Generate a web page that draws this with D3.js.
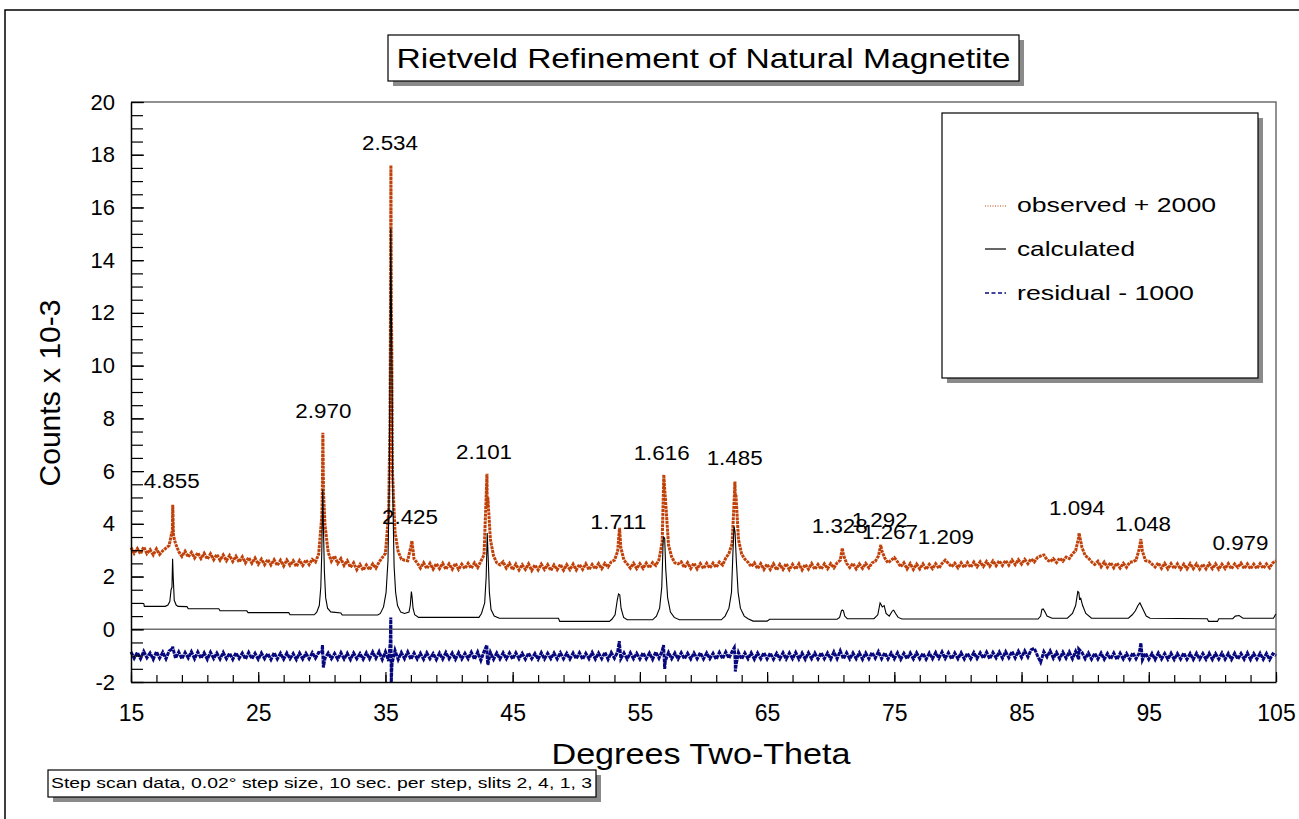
<!DOCTYPE html>
<html><head><meta charset="utf-8">
<script src="https://cdn.jsdelivr.net/npm/d3@7"></script>
<style>
body{margin:0;background:#fff}
svg{display:block}
text{font-family:"Liberation Sans",Arial,Helvetica,sans-serif;fill:#000}
</style>
</head><body>
<svg id="chart" width="1299" height="819"></svg>
<script>
// ---------- data ----------
const gridStart = 15, gridStep = 0.25;   // step of the digitised grid (degrees 2-theta)

// observed + 2000 (counts x 10^-3), read on a 0.25 deg grid, 15..105
const observedGrid = [
3.10,2.88,3.06,2.86,3.12,2.87,3.02,2.82,3.05,2.84,2.98,3.08,3.18,3.62,3.25,2.95,2.76,2.96,2.74,2.92,
2.70,2.90,2.68,2.88,2.66,2.86,2.64,2.84,2.62,2.82,2.60,2.80,2.57,2.77,2.55,2.75,2.52,2.72,2.50,2.70,
2.47,2.66,2.45,2.65,2.44,2.64,2.42,2.62,2.40,2.63,2.43,2.60,2.38,2.61,2.42,2.63,2.45,2.65,2.55,2.85,
4.30,3.95,2.92,2.58,2.78,2.50,2.68,2.42,2.60,2.35,2.52,2.26,2.46,2.24,2.44,2.26,2.48,2.32,2.55,2.72,
2.88,4.40,10.5,3.70,2.95,2.66,2.62,2.60,3.15,2.66,2.52,2.32,2.52,2.30,2.50,2.28,2.49,2.30,2.50,2.27,
2.48,2.28,2.50,2.27,2.47,2.30,2.50,2.31,2.52,2.34,2.58,2.82,4.60,3.40,2.78,2.52,2.44,2.56,2.32,2.50,
2.26,2.47,2.25,2.45,2.27,2.48,2.23,2.44,2.25,2.47,2.27,2.45,2.23,2.44,2.26,2.46,2.24,2.45,2.26,2.47,
2.25,2.46,2.27,2.48,2.26,2.46,2.29,2.49,2.30,2.50,2.36,2.56,2.62,2.95,3.10,2.62,2.48,2.32,2.50,2.30,
2.49,2.31,2.51,2.33,2.53,2.42,2.64,3.30,5.00,3.20,2.74,2.52,2.48,2.56,2.34,2.53,2.31,2.51,2.29,2.49,
2.30,2.50,2.32,2.51,2.35,2.55,2.44,2.70,2.88,3.25,5.00,3.40,2.85,2.66,2.54,2.38,2.52,2.30,2.49,2.27,
2.47,2.27,2.48,2.25,2.46,2.27,2.49,2.26,2.46,2.28,2.48,2.25,2.46,2.28,2.49,2.27,2.46,2.28,2.48,2.30,
2.49,2.33,2.52,2.62,2.82,2.50,2.34,2.50,2.29,2.48,2.31,2.50,2.33,2.52,2.58,2.78,3.00,2.70,2.52,2.62,
2.72,2.56,2.37,2.52,2.29,2.49,2.27,2.47,2.29,2.48,2.27,2.46,2.30,2.49,2.31,2.50,2.62,2.50,2.37,2.51,
2.33,2.52,2.34,2.53,2.35,2.55,2.37,2.56,2.38,2.57,2.39,2.59,2.41,2.60,2.42,2.61,2.43,2.63,2.45,2.64,
2.47,2.65,2.49,2.67,2.55,2.72,2.78,2.82,2.64,2.56,2.68,2.53,2.70,2.58,2.74,2.68,2.86,2.98,3.50,3.10,
2.80,2.70,2.56,2.46,2.58,2.37,2.55,2.35,2.53,2.33,2.51,2.32,2.50,2.35,2.54,2.56,2.62,3.05,2.95,2.60,
2.58,2.47,2.36,2.52,2.31,2.50,2.29,2.49,2.30,2.48,2.28,2.47,2.29,2.49,2.30,2.48,2.28,2.47,2.29,2.49,
2.30,2.48,2.28,2.47,2.30,2.49,2.29,2.48,2.35,2.51,2.30,2.48,2.29,2.47,2.30,2.49,2.31,2.48,2.33,2.52,
2.60];

// extra observed points at the peak tips [2theta, value]
const observedPeaks = [
[18.22,3.70],[18.28,4.72],[18.34,3.55],
[30.05,5.6],[30.08,7.45],[30.13,5.2],
[35.36,8.0],[35.40,12.6],[35.43,17.6],[35.46,12.3],[35.55,6.0],
[37.08,3.35],
[42.98,5.9],[43.05,5.0],
[53.40,3.85],
[56.88,5.86],[56.95,5.3],
[62.42,5.0],[62.47,5.6],[62.55,5.1],
[70.91,3.08],[73.94,3.2],[89.52,3.65],[94.38,3.42]];

// calculated pattern [2theta, value]
const calculated = [
[15,0.98],[16.0,0.98],[16.05,0.87],[17.7,0.87],[17.9,0.92],[18.05,1.05],[18.15,1.5],[18.22,1.6],[18.27,2.67],[18.32,1.95],[18.4,1.1],[18.55,0.92],[18.7,0.87],
[19.4,0.86],[19.5,0.78],[21.9,0.78],[22.0,0.70],[24.1,0.70],[24.2,0.63],[27.4,0.63],[27.5,0.55],[29.4,0.55],[29.6,0.65],[29.8,0.9],[29.92,1.6],[30.0,3.0],
[30.07,5.3],[30.12,4.0],[30.2,2.2],[30.3,1.2],[30.45,0.8],[30.7,0.66],[31.5,0.62],[31.6,0.54],[34.4,0.54],[34.6,0.6],[34.85,0.85],[35.05,1.4],[35.2,2.6],
[35.3,5.5],[35.38,11.5],[35.42,15.2],[35.47,12.0],[35.52,9.5],[35.58,5.0],[35.68,2.4],[35.8,1.4],[35.95,0.9],[36.2,0.65],[36.5,0.6],[36.85,0.65],[36.95,0.9],
[37.04,1.43],[37.1,1.2],[37.17,0.8],[37.3,0.55],[37.6,0.45],[42.35,0.45],[42.55,0.6],[42.8,1.0],[42.92,2.0],[43.0,3.65],[43.07,2.8],[43.17,1.4],[43.3,0.75],
[43.55,0.5],[43.95,0.42],[48.6,0.42],[48.7,0.3],[52.6,0.3],[52.8,0.38],[53.05,0.55],[53.22,1.1],[53.32,1.34],[53.42,1.3],[53.52,0.8],[53.72,0.45],[54.0,0.36],
[56.0,0.36],[56.3,0.5],[56.55,0.8],[56.72,1.6],[56.83,3.4],[56.88,3.5],[56.95,3.45],[57.03,2.3],[57.18,1.2],[57.4,0.65],[57.7,0.45],[58.1,0.36],
[61.4,0.36],[61.7,0.5],[62.0,0.8],[62.2,1.4],[62.32,3.0],[62.4,3.9],[62.48,3.7],[62.58,2.6],[62.72,1.4],[62.9,0.8],[63.2,0.5],[63.5,0.4],[63.9,0.31],
[65.0,0.31],[65.2,0.38],[70.5,0.38],[70.7,0.45],[70.84,0.7],[70.91,0.73],[71.0,0.7],[71.1,0.5],[71.3,0.4],[73.4,0.4],[73.7,0.55],[73.88,1.0],[73.95,0.95],
[74.05,0.85],[74.2,0.9],[74.35,0.6],[74.6,0.5],[74.85,0.7],[74.95,0.72],[75.1,0.6],[75.3,0.45],[75.6,0.39],[86.3,0.39],[86.5,0.5],[86.6,0.75],[86.7,0.77],
[86.85,0.65],[87.0,0.5],[87.4,0.42],[88.6,0.42],[89.0,0.6],[89.25,0.9],[89.42,1.43],[89.5,1.4],[89.56,1.15],[89.65,1.18],[89.8,0.9],[90.05,0.6],[90.5,0.42],
[93.4,0.42],[93.7,0.55],[93.95,0.7],[94.15,0.9],[94.3,1.0],[94.45,0.85],[94.6,0.7],[94.8,0.5],[95.1,0.42],[99.6,0.4],[99.7,0.3],[100.4,0.3],[100.5,0.4],
[101.6,0.4],[101.8,0.5],[102.1,0.52],[102.4,0.42],[104.8,0.42],[104.95,0.55],[105,0.58]];

// residual - 1000, read on the same 0.25 deg grid
const residualGrid = [
-0.86,-1.10,-0.88,-1.12,-0.84,-1.08,-0.90,-1.14,-0.85,-1.10,-0.87,-1.12,-0.82,-0.74,-1.10,-0.86,-1.12,-0.88,-1.09,-0.85,
-1.12,-0.86,-1.10,-0.89,-1.14,-0.87,-1.11,-0.90,-1.13,-0.88,-1.12,-0.91,-1.14,-0.89,-1.11,-0.90,-1.13,-0.88,-1.12,-0.91,
-1.14,-0.90,-1.12,-0.92,-1.15,-0.89,-1.13,-0.91,-1.14,-0.90,-1.12,-0.92,-1.15,-0.90,-1.13,-0.91,-1.12,-0.89,-1.10,-0.88,
-0.90,-1.10,-0.90,-1.12,-0.92,-1.14,-0.89,-1.13,-0.91,-1.15,-0.90,-1.12,-0.92,-1.14,-0.89,-1.12,-0.86,-1.10,-0.85,-1.15,
-0.85,-1.20,-1.50,-0.80,-1.15,-0.88,-1.12,-0.86,-1.14,-0.90,-1.13,-0.91,-1.14,-0.89,-1.12,-0.92,-1.15,-0.90,-1.13,-0.88,
-1.12,-0.90,-1.14,-0.89,-1.13,-0.91,-1.12,-0.87,-1.14,-0.86,-1.18,-0.84,-1.10,-0.88,-1.14,-0.90,-1.13,-0.89,-1.12,-0.90,
-1.13,-0.89,-1.12,-0.91,-1.14,-0.90,-1.12,-0.92,-1.14,-0.89,-1.13,-0.91,-1.12,-0.90,-1.13,-0.89,-1.12,-0.91,-1.13,-0.90,
-1.12,-0.89,-1.14,-0.91,-1.12,-0.88,-1.13,-0.90,-1.12,-0.87,-1.14,-0.88,-1.10,-0.86,-1.12,-0.90,-1.13,-0.89,-1.12,-0.91,
-1.13,-0.89,-1.12,-0.90,-1.14,-0.86,-1.10,-0.82,-1.20,-0.88,-1.12,-0.90,-1.13,-0.89,-1.12,-0.91,-1.13,-0.90,-1.12,-0.89,
-1.13,-0.90,-1.12,-0.91,-1.14,-0.88,-1.12,-0.86,-1.10,-0.84,-1.25,-0.88,-1.13,-0.90,-1.12,-0.89,-1.14,-0.90,-1.12,-0.89,
-1.13,-0.90,-1.14,-0.91,-1.12,-0.89,-1.13,-0.90,-1.12,-0.88,-1.13,-0.90,-1.14,-0.89,-1.12,-0.90,-1.13,-0.89,-1.12,-0.90,
-1.13,-0.86,-1.12,-0.82,-1.12,-0.89,-1.13,-0.90,-1.12,-0.89,-1.14,-0.90,-1.12,-0.88,-1.10,-0.85,-1.12,-0.89,-1.13,-0.90,
-1.12,-0.89,-1.14,-0.91,-1.12,-0.90,-1.13,-0.89,-1.12,-0.91,-1.14,-0.90,-1.12,-0.88,-1.10,-0.86,-1.11,-0.89,-1.13,-0.90,
-1.12,-0.89,-1.13,-0.91,-1.12,-0.88,-1.11,-0.89,-1.10,-0.87,-1.12,-0.88,-1.09,-0.86,-1.10,-0.85,-1.08,-0.84,-1.09,-0.83,
-1.07,-0.82,-1.05,-0.78,-0.72,-1.00,-1.25,-0.85,-1.05,-0.82,-1.10,-0.88,-1.12,-0.87,-1.10,-0.86,-1.12,-0.84,-1.14,-0.88,
-1.12,-0.90,-1.14,-0.91,-1.13,-0.90,-1.14,-0.92,-1.13,-0.90,-1.15,-0.91,-1.13,-0.92,-1.14,-0.89,-1.12,-0.90,-1.16,-0.91,
-1.14,-0.92,-1.15,-0.90,-1.13,-0.92,-1.14,-0.91,-1.15,-0.92,-1.13,-0.90,-1.14,-0.92,-1.15,-0.91,-1.13,-0.92,-1.14,-0.91,
-1.15,-0.92,-1.13,-0.90,-1.14,-0.92,-1.15,-0.91,-1.13,-0.92,-1.14,-0.90,-1.15,-0.92,-1.13,-0.91,-1.14,-0.92,-1.15,-0.93,
-1.00];

// residual spikes at the reflections [2theta, value]
const residualPeaks = [
[18.27,-0.66],[30.05,-0.6],[30.12,-1.45],[35.38,-0.5],[35.42,0.45],[35.46,-2.0],[35.52,-1.3],
[42.97,-0.6],[43.05,-1.35],[53.38,-0.45],[56.86,-0.6],[56.95,-1.5],[62.42,-0.7],[62.5,-1.6],[62.58,-1.3],
[89.5,-0.75],[94.38,-0.52]];

// d-spacing labels: text, centre position [2theta, counts x 10^-3]
const peakLabelText  = ["4.855","2.970","2.534","2.425","2.101","1.711","1.616","1.485","1.328","1.292","1.267","1.209","1.094","1.048","0.979"];
const peakLabelTheta = [18.20, 30.12, 35.36, 36.93, 42.75, 53.30, 56.71, 62.45, 70.71, 73.85, 74.66, 79.05, 89.36, 94.55, 102.21];
const peakLabelValue = [5.63, 8.28, 18.46, 4.26, 6.74, 4.08, 6.70, 6.49, 3.93, 4.15, 3.70, 3.51, 4.61, 3.98, 3.27];

const xTicks = [15,25,35,45,55,65,75,85,95,105];
const yTicks = [-2,0,2,4,6,8,10,12,14,16,18,20];

const legendLabels = ["observed + 2000","calculated","residual - 1000"];
const titleText = "Rietveld Refinement of Natural Magnetite";
const xTitle = "Degrees Two-Theta";
const yTitle = "Counts x 10-3";
const noteText = "Step scan data, 0.02\u00B0 step size, 10 sec. per step, slits 2, 4, 1, 3";

// ---------- drawing ----------
const ORANGE = "#c0420a", NAVY = "#08087e";
const svg = d3.select("#chart");
const x = d3.scaleLinear().domain([15,105]).range([131,1276]);
const y = d3.scaleLinear().domain([-2,20]).range([682,102]);

function gridSeries(grid, extra){
  const pts = grid.map((v,i)=>[gridStart + i*gridStep, v]);
  return pts.concat(extra).sort((a,b)=>a[0]-b[0]);
}
const line = d3.line().x(d=>x(d[0])).y(d=>y(d[1]));

// outer frame (left and top edges visible)
svg.append("path").attr("d","M5,819V10H1299").attr("fill","none").attr("stroke","#000").attr("stroke-width",1.5);

// title box
function shadowBox(x0,y0,w,h,off){
  svg.append("rect").attr("x",x0+off).attr("y",y0+off).attr("width",w).attr("height",h).attr("fill","#8a8a8a");
  svg.append("rect").attr("x",x0).attr("y",y0).attr("width",w).attr("height",h).attr("fill","#fff").attr("stroke","#000").attr("stroke-width",1.2);
}
shadowBox(388,35,631,46,5);
svg.append("text").attr("x",703.5).attr("y",68).attr("text-anchor","middle")
  .attr("font-size",28).attr("textLength",614).attr("lengthAdjust","spacingAndGlyphs").text(titleText);

// plot frame: top & right grey
svg.append("path").attr("d",`M${x(15)},${y(20)}H${x(105)}V${y(-2)}`).attr("fill","none").attr("stroke","#6e6e6e").attr("stroke-width",1.5);
// zero line
svg.append("line").attr("x1",x(15)).attr("x2",x(105)).attr("y1",y(0)).attr("y2",y(0)).attr("stroke","#6e6e6e").attr("stroke-width",1.5);

// series
const g = svg.append("g");
g.append("path").datum(gridSeries(observedGrid, observedPeaks)).attr("d",line)
  .attr("fill","none").attr("stroke",ORANGE).attr("stroke-width",3).attr("stroke-dasharray","3,0.8");
g.append("path").datum(calculated).attr("d",line)
  .attr("fill","none").attr("stroke","#000").attr("stroke-width",1.1);
g.append("path").datum(gridSeries(residualGrid, residualPeaks)).attr("d",line)
  .attr("fill","none").attr("stroke",NAVY).attr("stroke-width",3).attr("stroke-dasharray","4,0.8");

// axes
const plainNum = d => String(d);   // hyphen-minus as in the original
function styleAxis(sel, fs){
  sel.attr("font-family",'"Liberation Sans",Arial,sans-serif').attr("font-size",fs);
  sel.selectAll("text").attr("fill","#000");
  sel.selectAll("line").attr("stroke","#000").attr("stroke-width",1.2);
  sel.select(".domain").attr("stroke","#000").attr("stroke-width",1.5);
}
const minorY = d3.range(-2,20.01,0.5);
svg.append("g").attr("transform",`translate(${x(15)},0)`)
  .call(d3.axisLeft(y).tickValues(minorY).tickSize(-12).tickFormat(""))
  .call(s=>{s.select(".domain").remove(); s.selectAll("line").attr("stroke","#000").attr("stroke-width",1.2);});
svg.append("g").attr("transform",`translate(${x(15)},0)`)
  .call(d3.axisLeft(y).tickValues(yTicks).tickSizeInner(-13).tickSizeOuter(0).tickPadding(16).tickFormat(plainNum))
  .call(s=>styleAxis(s,22));

const minorX = d3.range(15,105.01,2);
svg.append("g").attr("transform",`translate(0,${y(-2)})`)
  .call(d3.axisBottom(x).tickValues(minorX).tickSize(-7).tickFormat(""))
  .call(s=>{s.select(".domain").remove(); s.selectAll("line").attr("stroke","#000").attr("stroke-width",1.2);});
svg.append("g").attr("transform",`translate(0,${y(-2)})`)
  .call(d3.axisBottom(x).tickValues(xTicks).tickSizeInner(-10).tickSizeOuter(0).tickPadding(23).tickFormat(plainNum))
  .call(s=>styleAxis(s,23));

// peak labels
svg.append("g").selectAll("text").data(peakLabelText).join("text")
  .attr("x",(d,i)=>x(peakLabelTheta[i])).attr("y",(d,i)=>y(peakLabelValue[i]))
  .attr("dy","0.36em").attr("text-anchor","middle").attr("font-size",19.5)
  .attr("textLength",56).attr("lengthAdjust","spacingAndGlyphs").text(d=>d);

// axis titles
svg.append("text").attr("transform","translate(60,393) rotate(-90)").attr("text-anchor","middle")
  .attr("font-size",29).attr("textLength",187).attr("lengthAdjust","spacingAndGlyphs").text(yTitle);
svg.append("text").attr("x",701).attr("y",764).attr("text-anchor","middle")
  .attr("font-size",29).attr("textLength",299).attr("lengthAdjust","spacingAndGlyphs").text(xTitle);

// legend
shadowBox(942,113,316,265,5);
const legY = [206,249,293];
const legBase = [212,256,300];
const legLen = [199,118,177];
const legStyles = [
  {stroke:ORANGE, dash:"1,1.5", w:1},
  {stroke:"#000", dash:null, w:1.2},
  {stroke:NAVY, dash:"4,2.5", w:1.4}];
legendLabels.forEach((t,i)=>{
  svg.append("line").attr("x1",985).attr("x2",1006).attr("y1",legY[i]).attr("y2",legY[i])
    .attr("stroke",legStyles[i].stroke).attr("stroke-width",legStyles[i].w).attr("stroke-dasharray",legStyles[i].dash);
  svg.append("text").attr("x",1017).attr("y",legBase[i]).attr("font-size",21)
    .attr("textLength",legLen[i]).attr("lengthAdjust","spacingAndGlyphs").text(t);
});

// footnote box
shadowBox(48,770,548,27,5);
svg.append("text").attr("x",51).attr("y",788).attr("font-size",15.5)
  .attr("textLength",541).attr("lengthAdjust","spacingAndGlyphs").text(noteText);
</script>
</body></html>
